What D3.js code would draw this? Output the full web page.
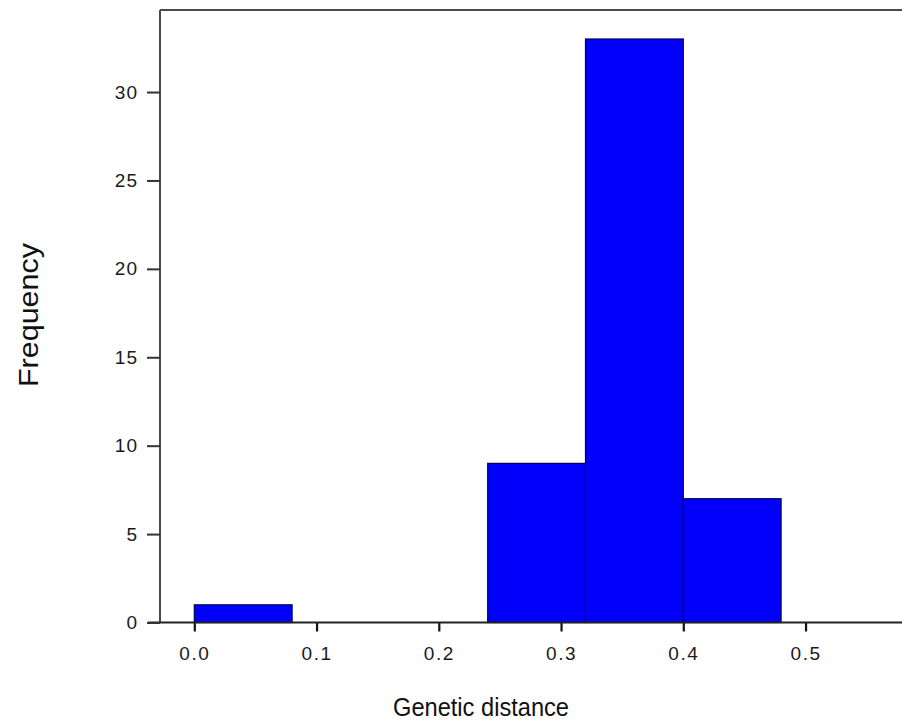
<!DOCTYPE html>
<html>
<head>
<meta charset="utf-8">
<script src="https://cdn.jsdelivr.net/npm/d3@7/dist/d3.min.js"></script>
<style>
  html, body { margin: 0; padding: 0; background: #fff; }
  svg { display: block; }
</style>
</head>
<body>
<div id="chart"></div>
<script>
// ---- data ----
const binStarts = [0.00, 0.08, 0.16, 0.24, 0.32, 0.40];
const binEnds   = [0.08, 0.16, 0.24, 0.32, 0.40, 0.48];
const counts    = [1, 0, 0, 9, 33, 7];
const xTickValues = [0.0, 0.1, 0.2, 0.3, 0.4, 0.5];
const xTickLabels = ["0.0", "0.1", "0.2", "0.3", "0.4", "0.5"];
const yTickValues = [0, 5, 10, 15, 20, 25, 30];
const xTitle = "Genetic distance";
const yTitle = "Frequency";

// ---- layout ----
const W = 902, H = 723;
const mLeft = 160, mRight = 902, mTop = 10, mBottom = 622.5;

const svg = d3.select("#chart").append("svg")
  .attr("width", W).attr("height", H);

const x = d3.scaleLinear().domain([-0.02806, 0.5789]).range([mLeft, mRight]);
const y = d3.scaleLinear().domain([0, 34.64]).range([mBottom, mTop]);

const font = "'Liberation Sans', Arial, Helvetica, sans-serif";

// bars
const bins = counts.map((c, i) => ({ x0: binStarts[i], x1: binEnds[i], c }));
svg.append("g").selectAll("rect")
  .data(bins.filter(d => d.c > 0))
  .join("rect")
  .attr("x", d => x(d.x0))
  .attr("y", d => y(d.c))
  .attr("width", d => x(d.x1) - x(d.x0))
  .attr("height", d => y(0) - y(d.c))
  .attr("fill", "#0000fb")
  .attr("stroke", "#00005a")
  .attr("stroke-width", 1.2);

// frame: top and left
svg.append("line")
  .attr("x1", mLeft).attr("x2", mRight).attr("y1", mTop).attr("y2", mTop)
  .attr("stroke", "#4a4a4a").attr("stroke-width", 2);
svg.append("line")
  .attr("x1", mLeft).attr("x2", mLeft).attr("y1", mTop).attr("y2", mBottom)
  .attr("stroke", "#4a4a4a").attr("stroke-width", 2);

// x axis
const xAxis = d3.axisBottom(x)
  .tickValues(xTickValues)
  .tickFormat((d, i) => xTickLabels[i])
  .tickSize(9)
  .tickPadding(15)
  .tickSizeOuter(0);
const gx = svg.append("g").attr("transform", `translate(0,${mBottom})`).call(xAxis);
gx.select(".domain").remove();
gx.selectAll(".tick line").attr("stroke", "#111").attr("stroke-width", 2.2);
gx.selectAll(".tick text")
  .attr("font-family", font).attr("font-size", 19)
  .attr("letter-spacing", 1.5)
  .attr("fill", "#1a1a1a");
svg.append("line")
  .attr("x1", mLeft - 12).attr("x2", mRight).attr("y1", mBottom).attr("y2", mBottom)
  .attr("stroke", "#222").attr("stroke-width", 2);

// y axis
const yAxis = d3.axisLeft(y)
  .tickValues(yTickValues)
  .tickFormat(d3.format("d"))
  .tickSize(13)
  .tickPadding(9)
  .tickSizeOuter(0);
const gy = svg.append("g").attr("transform", `translate(${mLeft},0)`).call(yAxis);
gy.select(".domain").remove();
gy.selectAll(".tick line").attr("stroke", "#333").attr("stroke-width", 2);
gy.selectAll(".tick text")
  .attr("font-family", font).attr("font-size", 19)
  .attr("letter-spacing", 1)
  .attr("fill", "#1a1a1a");

// titles
svg.append("text")
  .attr("x", 481).attr("y", 716)
  .attr("text-anchor", "middle")
  .attr("font-family", font).attr("font-size", 25)
  .attr("textLength", 176).attr("lengthAdjust", "spacingAndGlyphs")
  .attr("fill", "#111")
  .text(xTitle);

svg.append("text")
  .attr("transform", `translate(38,315) rotate(-90)`)
  .attr("text-anchor", "middle")
  .attr("font-family", font).attr("font-size", 27)
  .attr("textLength", 144).attr("lengthAdjust", "spacingAndGlyphs")
  .attr("fill", "#111")
  .text(yTitle);
</script>
</body>
</html>
